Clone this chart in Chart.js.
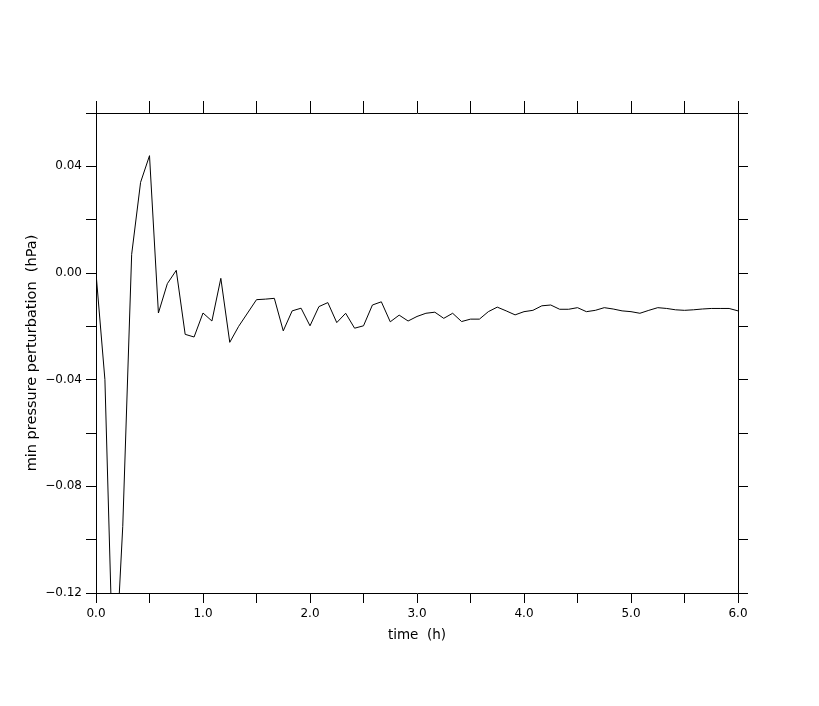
<!DOCTYPE html>
<html>
<head>
<meta charset="utf-8">
<script src="https://cdn.jsdelivr.net/npm/chart.js@4/dist/chart.umd.min.js"></script>
<style>
  html, body { margin: 0; padding: 0; background: #fff; }
  canvas { display: block; }
</style>
</head>
<body>
<canvas id="myChart" width="819" height="706"></canvas>
<script>
// time in minutes since start (5 min output interval)
const minutes = [
  0, 5, 10, 15, 20, 25, 30, 35, 40, 45, 50, 55,
  60, 65, 70, 75, 80, 85, 90, 95, 100, 105, 110, 115,
  120, 125, 130, 135, 140, 145, 150, 155, 160, 165, 170, 175,
  180, 185, 190, 195, 200, 205, 210, 215, 220, 225, 230, 235,
  240, 245, 250, 255, 260, 265, 270, 275, 280, 285, 290, 295,
  300, 305, 310, 315, 320, 325, 330, 335, 340, 345, 350, 355,
  360
];

// min pressure perturbation (hPa)
const minPressure = [
  0.000, -0.040, -0.160, -0.095, 0.007, 0.034, 0.044, -0.015, -0.004, 0.001, -0.023, -0.024,
  -0.015, -0.018, -0.002, -0.026, -0.020, -0.015, -0.010, -0.0098, -0.0095, -0.0217, -0.0142, -0.0132,
  -0.0198, -0.0126, -0.0111, -0.0186, -0.0151, -0.0207, -0.0198, -0.0120, -0.0108, -0.0183, -0.0158, -0.0180,
  -0.0163, -0.0151, -0.0147, -0.0170, -0.0151, -0.0182, -0.0173, -0.0173, -0.0145, -0.0128, -0.0142, -0.0157,
  -0.0145, -0.0140, -0.0123, -0.0120, -0.0136, -0.0136, -0.0130, -0.0145, -0.0140, -0.0130, -0.0135, -0.0142,
  -0.0145, -0.0151, -0.0140, -0.0130, -0.0133, -0.0138, -0.0140, -0.0138, -0.0135, -0.0133, -0.0133, -0.0133,
  -0.0142
];

const xLabels = ['0.0', '1.0', '2.0', '3.0', '4.0', '5.0', '6.0'];
const yLabels = ['\u22120.12', '\u22120.08', '\u22120.04', '0.00', '0.04'];

const points = minutes.map((m, i) => ({ x: m / 60, y: minPressure[i] }));

const tickFont = { family: 'DejaVu Sans', size: 12 };

function xTick(v) {
  const k = Math.round(v * 2);
  return k % 2 === 0 ? xLabels[k / 2] : '';
}

function yTick(v) {
  const k = Math.round(v * 100);
  return k % 4 === 0 ? yLabels[(k + 12) / 4] : '';
}

function axisLines(len) {
  return {
    grid: { drawOnChartArea: false, drawTicks: true, tickLength: len, color: '#000', lineWidth: 1 },
    border: { display: true, color: '#000', width: 1 }
  };
}

Chart.defaults.color = '#000';

const ctx = document.getElementById('myChart').getContext('2d');
const chart = new Chart(ctx, {
  type: 'line',
  data: {
    datasets: [
      {
        data: points,
        borderColor: '#000',
        borderWidth: 1,
        pointRadius: 0,
        fill: false,
        tension: 0
      }
    ]
  },
  options: {
    responsive: false,
    animation: false,
    devicePixelRatio: 1,
    layout: { padding: 0 },
    plugins: { legend: { display: false }, tooltip: { enabled: false } },
    scales: {
      x: {
        type: 'linear', position: 'bottom', min: 0, max: 6,
        ticks: { stepSize: 0.5, autoSkip: false, maxRotation: 0, padding: 4, font: tickFont, callback: xTick },
        title: { display: true, text: 'time  (h)', font: { family: 'DejaVu Sans', size: 13.5 }, padding: { top: 0, bottom: 62 } },
        ...axisLines(10),
        afterFit: s => { s.height = 113; }
      },
      x2: {
        type: 'linear', position: 'top', min: 0, max: 6,
        ticks: { stepSize: 0.5, autoSkip: false, maxRotation: 0, callback: () => '' },
        ...axisLines(12),
        afterFit: s => { s.height = 113; }
      },
      y: {
        type: 'linear', position: 'left', min: -0.12, max: 0.06,
        ticks: { stepSize: 0.02, autoSkip: false, padding: 4, font: tickFont, callback: yTick },
        title: { display: true, text: 'min pressure perturbation  (hPa)', font: { family: 'DejaVu Sans', size: 14.5 }, padding: { top: 24, bottom: 0 } },
        ...axisLines(10),
        afterFit: s => { s.width = 96; }
      },
      y2: {
        type: 'linear', position: 'right', min: -0.12, max: 0.06,
        ticks: { stepSize: 0.02, autoSkip: false, callback: () => '' },
        ...axisLines(10),
        afterFit: s => { s.width = 81; }
      }
    }
  }
});
</script>
</body>
</html>
